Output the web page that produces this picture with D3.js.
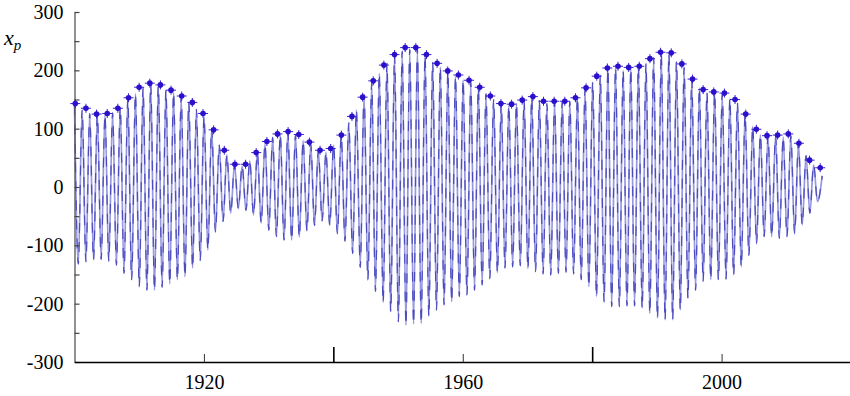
<!DOCTYPE html>
<html>
<head>
<meta charset="utf-8">
<script src="https://cdn.jsdelivr.net/npm/d3@7"></script>
<style>
  body { margin: 0; background: #fff; }
</style>
</head>
<body>
<div id="chart"></div>
<script>
// x_p series: swing extremes (years, mas)
const troughYears = [
  1900.59, 1901.76, 1902.94, 1904.12, 1905.30, 1906.48, 1907.65, 1908.83, 1910.01, 1911.19,
  1912.36, 1913.54, 1914.72, 1915.90, 1917.07, 1918.25, 1919.43, 1920.61, 1921.78, 1922.96,
  1924.14, 1925.32, 1926.50, 1927.67, 1928.85, 1930.03, 1931.21, 1932.38, 1933.56, 1934.74,
  1935.92, 1937.09, 1938.27, 1939.45, 1940.63, 1941.80, 1942.98, 1944.16, 1945.34, 1946.51,
  1947.70, 1948.87, 1950.05, 1951.22, 1952.40, 1953.58, 1954.76, 1955.94, 1957.11, 1958.29,
  1959.47, 1960.65, 1961.82, 1963.00, 1964.18, 1965.36, 1966.53, 1967.71, 1968.89, 1970.07,
  1971.25, 1972.42, 1973.60, 1974.78, 1975.96, 1977.13, 1978.31, 1979.49, 1980.67, 1981.84,
  1983.02, 1984.20, 1985.38, 1986.55, 1987.73, 1988.91, 1990.09, 1991.27, 1992.44, 1993.62,
  1994.80, 1995.98, 1997.15, 1998.33, 1999.51, 2000.69, 2001.86, 2003.04, 2004.22, 2005.40,
  2006.58, 2007.75, 2008.93, 2010.11, 2011.29, 2012.46, 2013.64, 2014.82
];
const troughValues = [
  -132, -128, -125, -124, -127, -134, -148, -159, -171, -177,
  -177, -172, -166, -159, -154, -139, -126, -108, -77, -59,
  -45, -37, -40, -48, -62, -74, -85, -91, -91, -86,
  -75, -66, -58, -66, -80, -93, -114, -138, -159, -179,
  -198, -214, -231, -237, -235, -234, -222, -211, -202, -197,
  -188, -185, -177, -168, -157, -147, -139, -137, -135, -140,
  -145, -149, -151, -148, -146, -149, -159, -171, -188, -197,
  -205, -205, -204, -204, -208, -217, -225, -228, -228, -211,
  -191, -177, -162, -159, -159, -158, -151, -137, -117, -97,
  -85, -85, -88, -85, -80, -65, -45, -25
];
const peakYears = [
  1900.00, 1901.18, 1902.35, 1903.53, 1904.71, 1905.89, 1907.07, 1908.24, 1909.42, 1910.60,
  1911.78, 1912.95, 1914.13, 1915.31, 1916.49, 1917.66, 1918.84, 1920.02, 1921.20, 1922.37,
  1923.55, 1924.73, 1925.91, 1927.09, 1928.26, 1929.44, 1930.62, 1931.80, 1932.97, 1934.15,
  1935.33, 1936.51, 1937.68, 1938.86, 1940.04, 1941.22, 1942.39, 1943.57, 1944.75, 1945.93,
  1947.10, 1948.29, 1949.46, 1950.64, 1951.81, 1952.99, 1954.17, 1955.35, 1956.53, 1957.70,
  1958.88, 1960.06, 1961.24, 1962.41, 1963.59, 1964.77, 1965.95, 1967.12, 1968.30, 1969.48,
  1970.66, 1971.84, 1973.01, 1974.19, 1975.37, 1976.55, 1977.72, 1978.90, 1980.08, 1981.26,
  1982.43, 1983.61, 1984.79, 1985.97, 1987.14, 1988.32, 1989.50, 1990.68, 1991.86, 1993.03,
  1994.21, 1995.39, 1996.57, 1997.74, 1998.92, 2000.10, 2001.28, 2002.45, 2003.63, 2004.81,
  2005.99, 2007.17, 2008.34, 2009.52, 2010.70, 2011.88, 2013.05, 2014.23, 2015.55
];
const peakValues = [
  140, 132, 126, 123, 124, 127, 136, 151, 160, 170,
  176, 173, 166, 162, 155, 145, 133, 121, 100, 72,
  55, 38, 36, 45, 58, 74, 85, 90, 94, 89,
  80, 74, 62, 60, 72, 88, 110, 132, 158, 178,
  195, 212, 226, 233, 236, 237, 226, 214, 206, 198,
  190, 184, 180, 170, 160, 150, 142, 140, 143, 148,
  153, 148, 143, 146, 146, 147, 154, 168, 180, 192,
  203, 205, 200, 203, 206, 212, 222, 230, 228, 215,
  205, 184, 170, 162, 162, 160, 152, 144, 124, 104,
  90, 87, 88, 86, 88, 75, 54, 38, 19
];

// marked maxima
const markerYears = [
  1900.12, 1901.77, 1903.41, 1905.06, 1906.70, 1908.35, 1909.99, 1911.64, 1913.28, 1914.92,
  1916.57, 1918.21, 1919.86, 1921.50, 1923.15, 1924.79, 1926.44, 1928.08, 1929.73, 1931.37,
  1933.01, 1934.66, 1936.30, 1937.95, 1939.59, 1941.24, 1942.88, 1944.53, 1946.17, 1947.81,
  1949.46, 1951.10, 1952.75, 1954.39, 1956.04, 1957.68, 1959.33, 1960.97, 1962.62, 1964.26,
  1965.90, 1967.55, 1969.19, 1970.84, 1972.48, 1974.13, 1975.77, 1977.42, 1979.06, 1980.71,
  1982.35, 1983.99, 1985.64, 1987.28, 1988.93, 1990.57, 1992.22, 1993.86, 1995.51, 1997.15,
  1998.79, 2000.44, 2002.08, 2003.73, 2005.37, 2007.02, 2008.66, 2010.31, 2011.95, 2013.60,
  2015.24
];
const markerValues = [
  143, 135, 125, 126, 135, 153, 171, 178, 175, 166,
  156, 145, 126, 98, 63, 39, 39, 59, 78, 91,
  95, 90, 77, 63, 66, 89, 121, 154, 182, 209,
  227, 239, 239, 227, 212, 199, 192, 183, 171, 156,
  143, 142, 149, 155, 147, 147, 147, 153, 170, 190,
  204, 207, 205, 207, 220, 231, 230, 211, 185, 167,
  163, 161, 150, 125, 99, 88, 89, 91, 75, 46,
  33
];

const yTicks = d3.range(-300, 301, 50);
const xLabelTicks = [1920, 1960, 2000];
const xLongTicks = [1940, 1980, 2020];

const serif = "'Liberation Serif', 'Times New Roman', serif";
const margin = { top: 12, right: -1, bottom: 34, left: 74.5 };
const width = 850, height = 396;

const svg = d3.select("#chart")
    .append("svg")
    .attr("width", width)
    .attr("height", height);

const x = d3.scaleLinear()
    .domain([1900, 2020])
    .range([margin.left, width - margin.right]);

const y = d3.scaleLinear()
    .domain([-300, 300])
    .range([height - margin.bottom, margin.top]);

// merge peaks and troughs into one time-ordered series
const series = d3.sort(
    peakYears.map((t, i) => ({ t, v: peakValues[i] }))
        .concat(troughYears.map((t, i) => ({ t, v: troughValues[i] }))),
    d => d.t);

const line = d3.line()
    .x(d => x(d.t))
    .y(d => y(d.v))
    .curve(d3.curveMonotoneX);

// light stroke, then darker dashes on top (mimics the overlapped strokes)
svg.append("path")
    .datum(series)
    .attr("fill", "none")
    .attr("stroke", "#9898e0")
    .attr("stroke-width", 1.7)
    .attr("d", line);

svg.append("path")
    .datum(series)
    .attr("fill", "none")
    .attr("stroke", "#4c4cbf")
    .attr("stroke-width", 1.2)
    .attr("stroke-dasharray", "10,9")
    .attr("d", line);

// Y axis
const yAxis = svg.append("g")
    .attr("transform", `translate(${margin.left},0)`)
    .call(d3.axisLeft(y)
        .tickValues(yTicks)
        .tickSizeInner(-5)
        .tickSizeOuter(0)
        .tickPadding(11)
        .tickFormat(d => d % 100 === 0 ? String(d) : ""));
yAxis.attr("font-family", serif).attr("font-size", 20);
yAxis.select(".domain").attr("stroke", "#555").attr("stroke-width", 1.3);
yAxis.selectAll(".tick line").attr("stroke", "#444").attr("stroke-width", 1.2);
yAxis.selectAll(".tick text").attr("fill", "#000");

// X axis: labelled short ticks and unlabelled tall ticks
const xAxis = svg.append("g")
    .attr("transform", `translate(0,${height - margin.bottom})`)
    .call(d3.axisBottom(x)
        .tickValues(xLabelTicks)
        .tickSizeInner(-8)
        .tickSizeOuter(0)
        .tickPadding(13)
        .tickFormat(d3.format("d")));
xAxis.attr("font-family", serif).attr("font-size", 20);
xAxis.select(".domain").attr("stroke", "#000").attr("stroke-width", 1.6);
xAxis.selectAll(".tick line").attr("stroke", "#333").attr("stroke-width", 1);
xAxis.selectAll(".tick text").attr("fill", "#000");

const xAxisLong = svg.append("g")
    .attr("transform", `translate(0,${height - margin.bottom})`)
    .call(d3.axisBottom(x)
        .tickValues(xLongTicks)
        .tickSizeInner(-15)
        .tickSizeOuter(0)
        .tickFormat(""));
xAxisLong.select(".domain").remove();
xAxisLong.selectAll(".tick line").attr("stroke", "#000").attr("stroke-width", 1.6);

// markers
const markers = svg.append("g")
    .selectAll("g")
    .data(markerYears.map((t, i) => ({ t, v: markerValues[i] })))
    .join("g")
    .attr("transform", d => `translate(${x(d.t)},${y(d.v)})`);

markers.append("line")
    .attr("x1", -5).attr("x2", 5)
    .attr("stroke", "#3a22cc").attr("stroke-width", 1);
markers.append("line")
    .attr("y1", -4.5).attr("y2", 4.5)
    .attr("stroke", "#3a22cc").attr("stroke-width", 1);
markers.append("circle")
    .attr("r", 2.8)
    .attr("fill", "#2a10cc");

// axis title
const title = svg.append("text")
    .attr("x", 4)
    .attr("y", 45)
    .attr("font-family", serif)
    .attr("font-size", 22)
    .attr("font-style", "italic");
title.append("tspan").text("x");
title.append("tspan")
    .attr("dy", 5)
    .attr("font-size", 15)
    .text("p");
</script>
</body>
</html>
